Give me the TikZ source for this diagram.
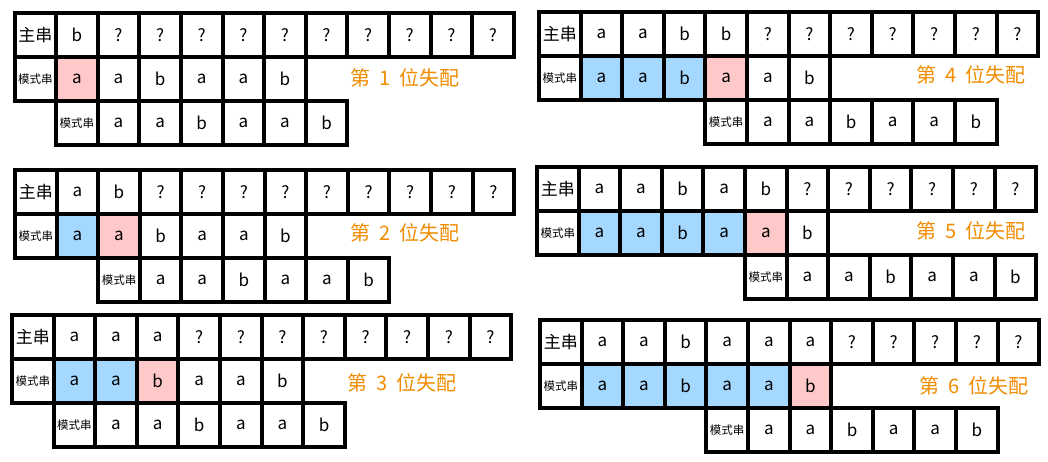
\documentclass[tikz,border=0pt]{standalone}
\usepackage{fontspec}
\setmainfont{Noto Sans CJK SC}
\definecolor{azul}{HTML}{A5D8FF}
\definecolor{rosa}{HTML}{FFC9C9}
\definecolor{laranja}{HTML}{F08C00}

\begin{document}
\begin{tikzpicture}[x=1pt,y=-1pt,
    celula/.style={draw=black, line width=4pt, minimum width=41.6pt, minimum height=44pt,
        inner sep=0pt, anchor=north west, font=\fontsize{17}{17}\selectfont},
    rotulo/.style={celula, font=\fontsize{11.5}{12}\selectfont},
    aviso/.style={text=laranja, font=\fontsize{20}{20}\selectfont}]

    % 0. Moldura fixa do desenho (mesmas proporções da figura)
    \useasboundingbox (0,0) rectangle (1048,461);

    % 1. Um painel: linha do texto principal, linha do padrão e padrão deslocado
    % #1 nome, #2 x, #3 y, #4 texto principal, #5 acertos (azul), #6 deslocamento,
    % #7 posição do erro, #8/#9 posição do aviso
    \def\painel#1#2#3#4#5#6#7#8#9{
        % --- Linha do texto principal ---
        \node[celula] (#1m0) at (#2,#3) {主串};
        \foreach \c [count=\i] in {#4}
            \node[celula] (#1m\i) at ({#2+\i*41.6},#3) {\c};

        % --- Linha do padrão (azul = acerto, rosa = falha) ---
        \node[rotulo] (#1a0) at (#2,#3+44) {模式串};
        \foreach \c [count=\i] in {a,a,b,a,a,b} {
            \ifnum\i>#5 \def\cor{white}\else\def\cor{azul}\fi
            \ifnum\i=#7 \def\cor{rosa}\fi
            \node[celula, fill=\cor] (#1a\i) at ({#2+\i*41.6},#3+44) {\c};
        }

        % --- Padrão deslocado ---
        \node[rotulo] (#1s0) at ({#2+#6*41.6},#3+88) {模式串};
        \foreach \c [count=\i] in {a,a,b,a,a,b}
            \node[celula] (#1s\i) at ({#2+(#6+\i)*41.6},#3+88) {\c};

        % --- Aviso laranja ---
        \node[aviso] (#1t) at (#8,#9) {第\hspace{0.45em}#7\hspace{0.45em}位失配};
    }

    % 2. Coluna da esquerda
    \painel{p1}{12.5}{11}{b,?,?,?,?,?,?,?,?,?,?}{0}{1}{1}{405}{78}
    \painel{p2}{13}{168}{a,b,?,?,?,?,?,?,?,?,?}{1}{2}{2}{405}{233}
    \painel{p3}{10}{313}{a,a,a,?,?,?,?,?,?,?,?}{2}{1}{3}{402}{383}

    % 3. Coluna da direita
    \painel{p4}{537}{10}{a,a,b,b,?,?,?,?,?,?,?}{3}{4}{4}{971}{75}
    \painel{p5}{535}{165}{a,a,b,a,b,?,?,?,?,?,?}{4}{5}{5}{971}{231}
    \painel{p6}{538}{318}{a,a,b,a,a,a,?,?,?,?,?}{5}{4}{6}{974}{386}

\end{tikzpicture}
\end{document}
